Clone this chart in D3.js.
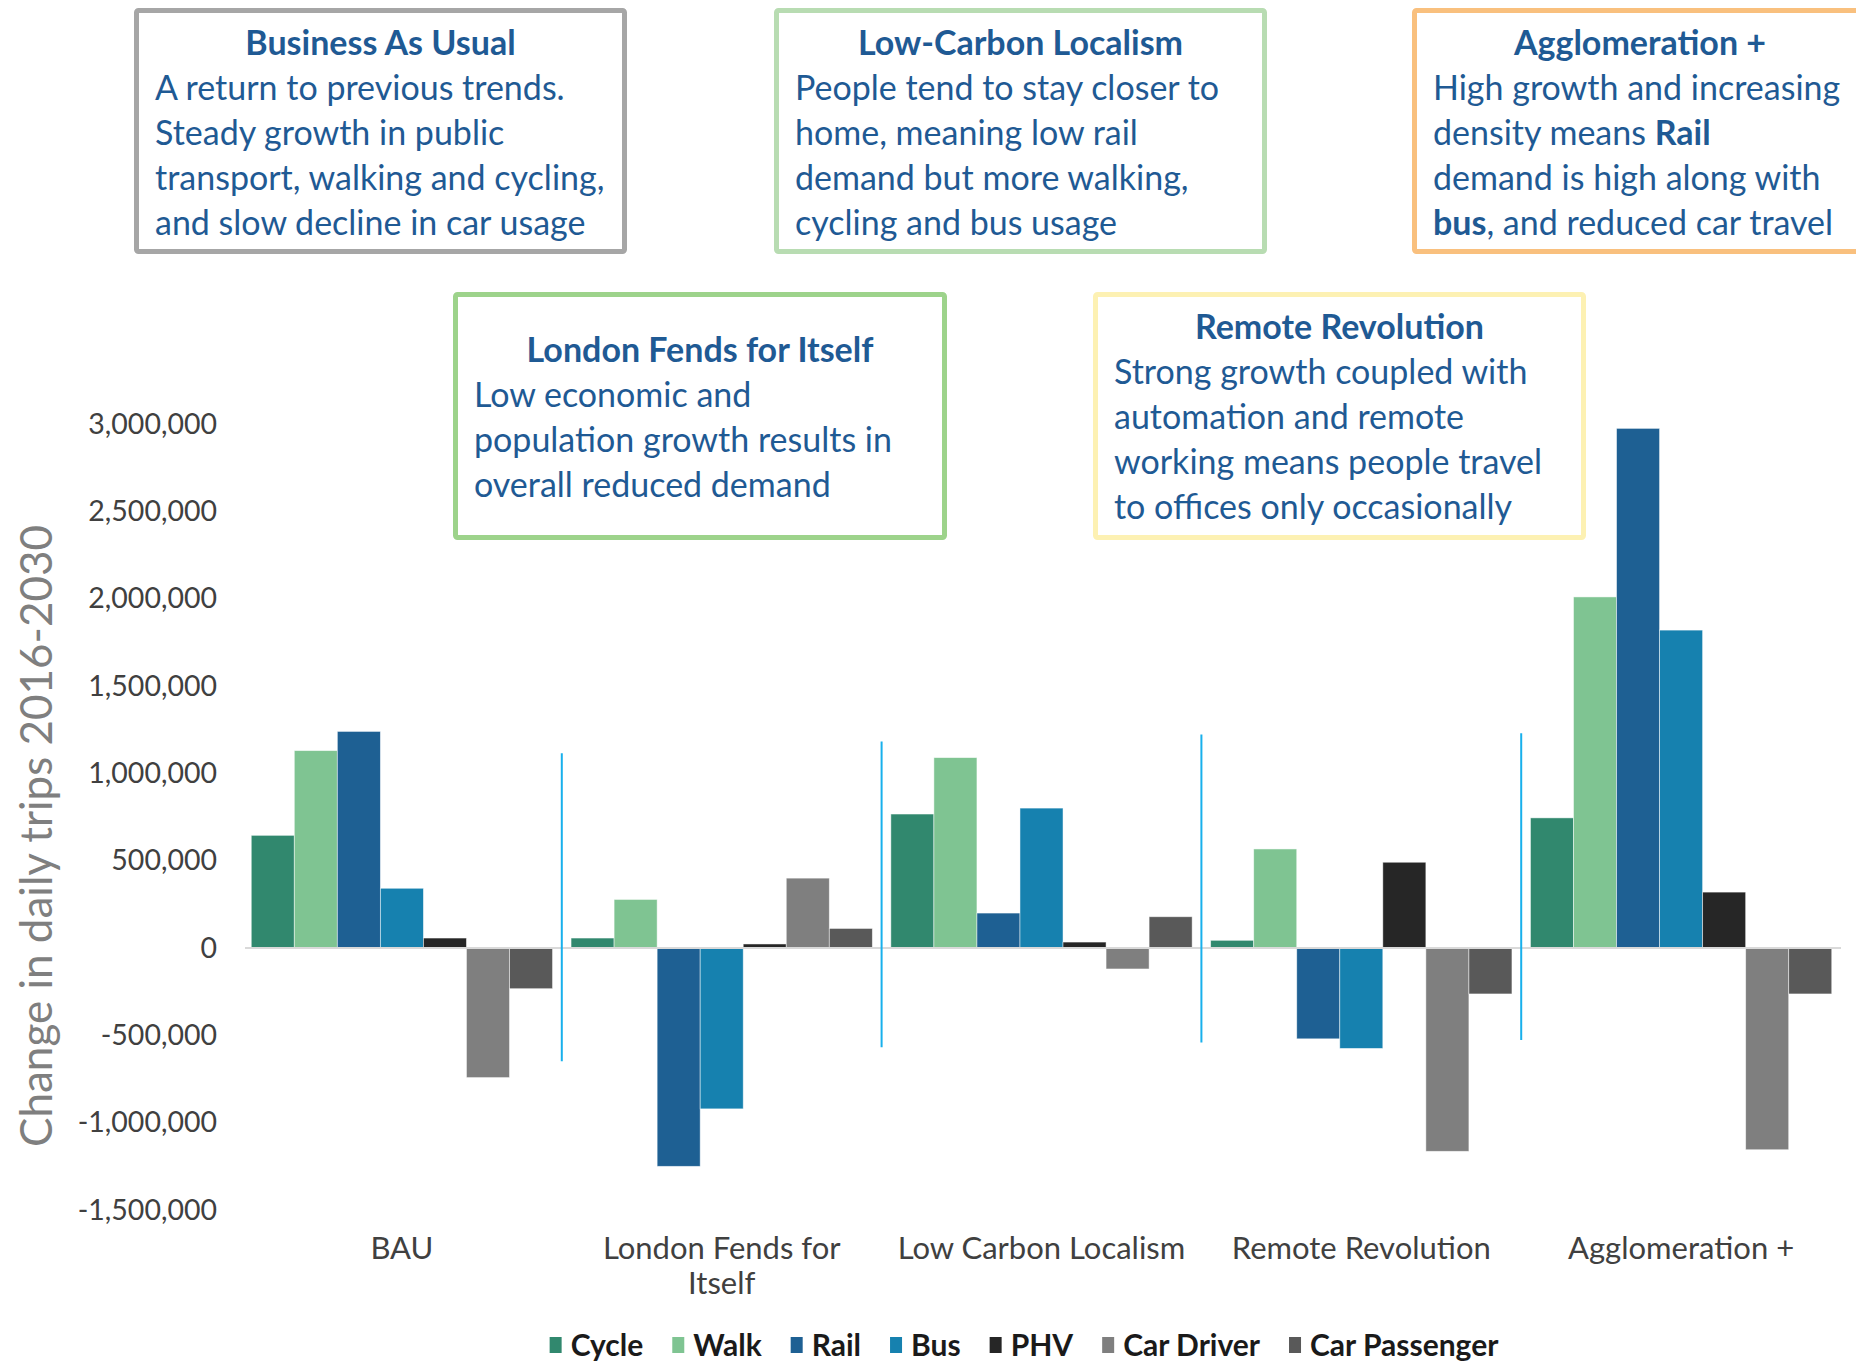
<!DOCTYPE html>
<html>
<head>
<meta charset="utf-8">
<script src="https://cdn.jsdelivr.net/npm/d3@7"></script>
<style>
  body { margin: 0; background: #fff; }
  svg { display: block; }
  .box-text { font-family: Lato, "Open Sans", sans-serif; fill: #1f5a94; }
  .axis text { font-family: Lato, sans-serif; fill: #404040; }
</style>
</head>
<body>
<div class="chart"></div>
<script>
// chart data
var scenarios = ["BAU", "London Fends for Itself", "Low Carbon Localism", "Remote Revolution", "Agglomeration +"];
var scenarioLabels = [["BAU"], ["London Fends for", "Itself"], ["Low Carbon Localism"], ["Remote Revolution"], ["Agglomeration +"]];
var modes = ["Cycle", "Walk", "Rail", "Bus", "PHV", "Car Driver", "Car Passenger"];

var cycle        = [645000, 57000, 767000, 44000, 745000];
var walk         = [1130000, 278000, 1090000, 567000, 2010000];
var rail         = [1240000, -1250000, 200000, -520000, 2975000];
var bus          = [342000, -921000, 801000, -575000, 1820000];
var phv          = [57000, 23000, 34000, 491000, 320000];
var carDriver    = [-742000, 400000, -120000, -1164000, -1155000];
var carPassenger = [-233000, 112000, 179000, -263000, -263000];

var yTicks = [-1500000, -1000000, -500000, 0, 500000, 1000000, 1500000, 2000000, 2500000, 3000000];

// extent (in trips) of the blue separators between scenarios
var dividerTop    = [1115000, 1182000, 1223000, 1230000];
var dividerBottom = [-649000, -568000, -541000, -527000];

var modeColors = ["#31886e", "#7fc492", "#1e6093", "#1681af", "#262626", "#7f7f7f", "#595959"];

// scenario description boxes
var boxTitles = ["Business As Usual", "Low-Carbon Localism", "Agglomeration +", "London Fends for Itself", "Remote Revolution"];
var boxLines = [
    [[["A return to previous trends.", false]], [["Steady growth in public", false]], [["transport, walking and cycling,", false]], [["and slow decline in car usage", false]]],
    [[["People tend to stay closer to", false]], [["home, meaning low rail", false]], [["demand but more walking,", false]], [["cycling and bus usage", false]]],
    [[["High growth and increasing", false]], [["density means ", false], ["Rail", true]], [["demand is high along with", false]], [["bus", true], [", and reduced car travel", false]]],
    [[["Low economic and", false]], [["population growth results in", false]], [["overall reduced demand", false]]],
    [[["Strong growth coupled with", false]], [["automation and remote", false]], [["working means people travel", false]], [["to offices only occasionally", false]]]
];
var boxColors = ["#a6a6a6", "#b8dcb2", "#f9c07e", "#9dd38b", "#fdf1b3"];

var svgWidth = 1856, svgHeight = 1365;

var svg = d3.select(".chart").append("svg")
    .attr("width", svgWidth)
    .attr("height", svgHeight);

var plot = {left: 242, right: 1841, top: 424, bottom: 1210};

var x0 = d3.scaleBand().domain(scenarios).range([plot.left, plot.right]).padding(0);
var x1 = d3.scaleBand().domain(modes).range([0, x0.bandwidth()]).paddingInner(0).paddingOuter(0.215);
var y = d3.scaleLinear().domain([-1500000, 3000000]).range([plot.bottom, plot.top]);
var color = d3.scaleOrdinal().domain(modes).range(modeColors);

var series = [cycle, walk, rail, bus, phv, carDriver, carPassenger];
var rows = [];
scenarios.forEach(function(s, i) {
    modes.forEach(function(m, j) {
        rows.push({scenario: s, mode: m, value: series[j][i]});
    });
});

// y axis
var fmt = d3.format(",");
var yAxis = d3.axisLeft(y).tickValues(yTicks)
    .tickFormat(function(d) { return fmt(d).replace("\u2212", "-"); })
    .tickSize(0).tickPadding(0);
var gy = svg.append("g")
    .attr("class", "axis")
    .attr("transform", "translate(217,0)")
    .call(yAxis);
gy.select(".domain").remove();
gy.selectAll("text").style("font-size", "28.5px");

svg.append("text")
    .attr("transform", "translate(52," + 836 + ") rotate(-90)")
    .attr("text-anchor", "middle")
    .style("font-family", "Lato, sans-serif")
    .style("font-size", "44px")
    .style("fill", "#7f7f7f")
    .text("Change in daily trips 2016-2030");

// bars
svg.append("g").selectAll("rect")
    .data(rows)
    .enter().append("rect")
    .attr("x", function(d) { return x0(d.scenario) + x1(d.mode); })
    .attr("y", function(d) { return y(Math.max(0, d.value)); })
    .attr("width", x1.bandwidth())
    .attr("height", function(d) { return Math.abs(y(d.value) - y(0)); })
    .attr("fill", function(d) { return color(d.mode); })
    .attr("stroke", "#ffffff")
    .attr("stroke-opacity", 0.6)
    .attr("stroke-width", 0.8);

// zero line
svg.append("line")
    .attr("x1", plot.left + 3).attr("x2", plot.right)
    .attr("y1", y(0)).attr("y2", y(0))
    .attr("stroke", "#d9d9d9")
    .attr("stroke-width", 2);

// separators
svg.append("g").selectAll("line")
    .data(scenarios.slice(1))
    .enter().append("line")
    .attr("x1", function(d) { return x0(d); })
    .attr("x2", function(d) { return x0(d); })
    .attr("y1", function(d, i) { return y(dividerTop[i]); })
    .attr("y2", function(d, i) { return y(dividerBottom[i]); })
    .attr("stroke", "#18b0ec")
    .attr("stroke-width", 2);

// x labels
var xl = svg.append("g").attr("class", "axis");
scenarios.forEach(function(s, i) {
    var t = xl.append("text")
        .attr("x", x0(s) + x0.bandwidth() / 2)
        .attr("y", 1259)
        .attr("text-anchor", "middle")
        .style("font-size", "31px");
    scenarioLabels[i].forEach(function(line, k) {
        t.append("tspan")
            .attr("x", x0(s) + x0.bandwidth() / 2)
            .attr("dy", k === 0 ? 0 : 35)
            .text(line);
    });
});

// legend
var legend = svg.append("g").attr("transform", "translate(0,1345)");
var lx = 0;
var items = legend.selectAll("g").data(modes).enter().append("g");
items.append("rect")
    .attr("y", -8).attr("width", 12).attr("height", 16)
    .attr("fill", function(d) { return color(d); });
items.append("text")
    .attr("x", 21).attr("y", 11)
    .style("font-family", "Lato, sans-serif")
    .style("font-weight", "bold")
    .style("font-size", "30px")
    .style("fill", "#1a1a1a")
    .text(function(d) { return d; });
items.each(function() {
    var w = d3.select(this).select("text").node().getComputedTextLength();
    d3.select(this).attr("transform", "translate(" + lx + ",0)");
    lx += 21 + w + 29;
});
lx -= 29;
legend.attr("transform", "translate(" + (1024 - lx / 2) + ",1345)");

// description boxes
var boxPos = [
    {x: 134, y: 8, w: 493, h: 246, ty: 43},
    {x: 774, y: 8, w: 493, h: 246, ty: 43},
    {x: 1412, y: 8, w: 470, h: 246, ty: 43},
    {x: 453, y: 292, w: 494, h: 248, ty: 350},
    {x: 1093, y: 292, w: 493, h: 248, ty: 327}
];

boxPos.forEach(function(b, i) {
    var g = svg.append("g");
    g.append("rect")
        .attr("x", b.x + 2.5).attr("y", b.y + 2.5)
        .attr("width", b.w - 5).attr("height", b.h - 5)
        .attr("rx", 2)
        .attr("fill", "#fff")
        .attr("stroke", boxColors[i])
        .attr("stroke-width", 5);
    var cx = i === 2 ? 1640 : b.x + b.w / 2;
    g.append("text")
        .attr("class", "box-text")
        .attr("x", cx)
        .attr("y", b.ty + 12)
        .attr("text-anchor", "middle")
        .style("font-size", "34px")
        .style("font-weight", "bold")
        .text(boxTitles[i]);
    boxLines[i].forEach(function(line, k) {
        var t = g.append("text")
            .attr("class", "box-text")
            .attr("x", b.x + 21)
            .attr("y", b.ty + 12 + 45 * (k + 1))
            .style("font-size", "34px");
        line.forEach(function(part) {
            t.append("tspan")
                .style("font-weight", part[1] ? "bold" : "normal")
                .text(part[0]);
        });
    });
});
</script>
</body>
</html>
